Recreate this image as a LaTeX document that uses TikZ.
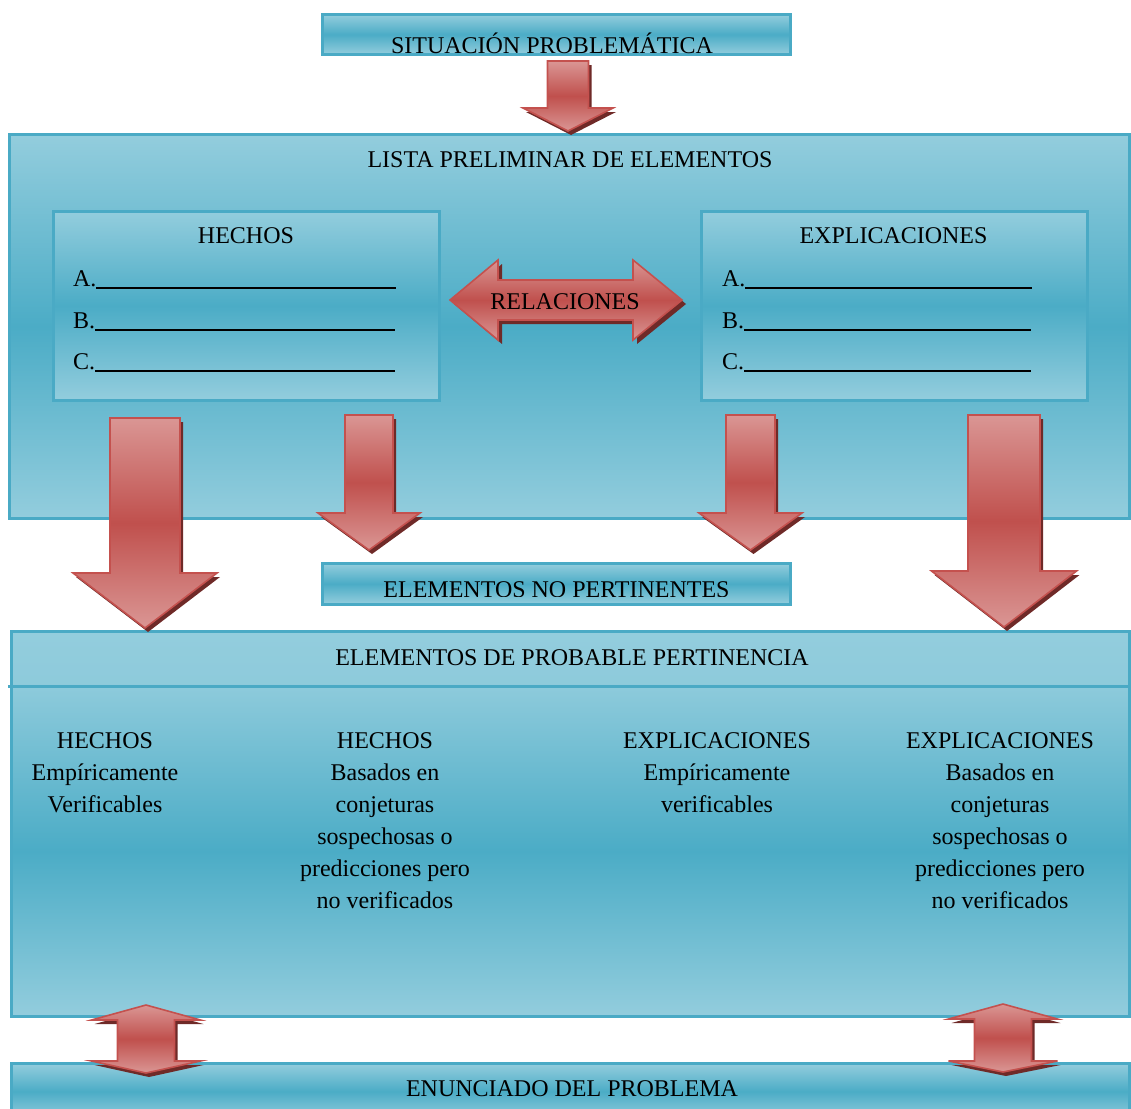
\documentclass[tikz,border=0pt]{standalone}
\usepackage{fontspec}
\setmainfont{Liberation Serif}
\definecolor{aquaL}{HTML}{93CDDD}
\definecolor{aquaD}{HTML}{4BACC6}
\definecolor{aquaB}{HTML}{4AAAC5}
\definecolor{redL}{HTML}{DA9694}
\definecolor{redM}{HTML}{C0504D}
\definecolor{redB}{HTML}{C4514E}
\definecolor{redS}{HTML}{6F2A28}

% block arrow pointing down: cx, top y, shaft half width, head base y, head half width, tip y
\newcommand\blkdown[6]{%
  \begin{scope}[shift={(3,4)}]
    \fill[redS] ({#1-#3},#2) -- ({#1+#3},#2) -- ({#1+#3},#4) -- ({#1+#5},#4) -- (#1,#6) -- ({#1-#5},#4) -- ({#1-#3},#4) -- cycle;
  \end{scope}
  \path[blockarrow] ({#1-#3},#2) -- ({#1+#3},#2) -- ({#1+#3},#4) -- ({#1+#5},#4) -- (#1,#6) -- ({#1-#5},#4) -- ({#1-#3},#4) -- cycle;
}
% horizontal double block arrow: left tip x, centre y, left head base x, right head base x, right tip x, shaft half, head half
\newcommand\blkhoriz[7]{%
  \begin{scope}[shift={(4,4)}]
    \fill[redS] (#1,#2) -- (#3,{#2-#7}) -- (#3,{#2-#6}) -- (#4,{#2-#6}) -- (#4,{#2-#7}) -- (#5,#2) -- (#4,{#2+#7}) -- (#4,{#2+#6}) -- (#3,{#2+#6}) -- (#3,{#2+#7}) -- cycle;
  \end{scope}
  \path[blockarrow] (#1,#2) -- (#3,{#2-#7}) -- (#3,{#2-#6}) -- (#4,{#2-#6}) -- (#4,{#2-#7}) -- (#5,#2) -- (#4,{#2+#7}) -- (#4,{#2+#6}) -- (#3,{#2+#6}) -- (#3,{#2+#7}) -- cycle;
}
% vertical double block arrow: cx, top tip y, top head base y, bottom head base y, bottom tip y, shaft half, head half
\newcommand\blkvert[7]{%
  \begin{scope}[shift={(3,4)}]
    \fill[redS] (#1,#2) -- ({#1+#7},#3) -- ({#1+#6},#3) -- ({#1+#6},#4) -- ({#1+#7},#4) -- (#1,#5) -- ({#1-#7},#4) -- ({#1-#6},#4) -- ({#1-#6},#3) -- ({#1-#7},#3) -- cycle;
  \end{scope}
  \path[blockarrow] (#1,#2) -- ({#1+#7},#3) -- ({#1+#6},#3) -- ({#1+#6},#4) -- ({#1+#7},#4) -- (#1,#5) -- ({#1-#7},#4) -- ({#1-#6},#4) -- ({#1-#6},#3) -- ({#1-#7},#3) -- cycle;
}

\begin{document}
\begin{tikzpicture}[x=1pt,y=-1pt,
  every node/.style={inner sep=0pt, outer sep=0pt},
  panel/.style={draw=aquaB, line width=3pt, top color=aquaL, bottom color=aquaL, middle color=aquaD, anchor=north west},
  blockarrow/.style={draw=redB, line width=1.6pt, top color=redL, bottom color=redL, middle color=redM},
  lbl/.style={anchor=base, font=\fontsize{24}{32}\selectfont},
  col/.style={anchor=base, align=center, font=\fontsize{24}{32}\selectfont}]
\useasboundingbox (0,0) rectangle (1131,1108);

% header box
\node[panel, minimum width=468pt, minimum height=40pt] (situacion) at (322.5,14.5) {};
\begin{scope}
  \clip (324,16) rectangle (789,54);
  \node[lbl] (tsituacion) at (552,54) {SITUACIÓN PROBLEMÁTICA};
\end{scope}

% preliminary list
\node[panel, minimum width=1120pt, minimum height=384pt] (lista) at (9.5,134.5) {};
\node[lbl] (tlista) at (570,167) {LISTA PRELIMINAR DE ELEMENTOS};

\node[panel, minimum width=386pt, minimum height=188.5pt] (hechos) at (53.5,211.5) {};
\node[lbl] (thechos) at (246,243) {HECHOS};
\node[lbl, anchor=base west] (ha) at (73,286) {A.\rule[-2.5pt]{300pt}{1.1pt}};
\node[lbl, anchor=base west] (hb) at (73,328) {B.\rule[-2.5pt]{300pt}{1.1pt}};
\node[lbl, anchor=base west] (hc) at (73,369) {C.\rule[-2.5pt]{300pt}{1.1pt}};

\node[panel, minimum width=386pt, minimum height=188.5pt] (explic) at (701.5,211.5) {};
\node[lbl] (texplic) at (893.5,243) {EXPLICACIONES};
\node[lbl, anchor=base west] (ea) at (722,286) {A.\rule[-2.5pt]{287pt}{1.1pt}};
\node[lbl, anchor=base west] (eb) at (722,328) {B.\rule[-2.5pt]{287pt}{1.1pt}};
\node[lbl, anchor=base west] (ec) at (722,369) {C.\rule[-2.5pt]{287pt}{1.1pt}};

% not pertinent
\node[panel, minimum width=468pt, minimum height=40.5pt] (nopert) at (322.5,563.5) {};
\begin{scope}
  \clip (324,565) rectangle (789,596);
  \node[lbl] (tnopert) at (556.5,597) {ELEMENTOS NO PERTINENTES};
\end{scope}

% probable pertinence
\coordinate (pnw) at (11.5,631.5);
\coordinate (pdiv) at (11.5,686);
\coordinate (pse) at (1129.5,1016.5);
\path[top color=aquaL, bottom color=aquaL!92!aquaD] (pnw) rectangle (pse |- pdiv);
\path[top color=aquaL!92!aquaD, bottom color=aquaL, middle color=aquaD] (pdiv) rectangle (pse);
\node[draw=aquaB, line width=3pt, minimum width=1118pt, minimum height=385pt, anchor=north west] (probable) at (pnw) {};
\draw[aquaB, line width=3pt] (8,686) -- (pse |- pdiv);
\node[lbl] (tprobable) at (572,665) {ELEMENTOS DE PROBABLE PERTINENCIA};

% multi-line columns: base anchor sits on the last line
\node[col] (c1) at (105,812) {HECHOS\\Empíricamente\\Verificables};
\node[col] (c2) at (385,908) {HECHOS\\Basados en\\conjeturas\\sospechosas o\\predicciones pero\\no verificados};
\node[col] (c3) at (717,812) {EXPLICACIONES\\Empíricamente\\verificables};
\node[col] (c4) at (1000,908) {EXPLICACIONES\\Basados en\\conjeturas\\sospechosas o\\predicciones pero\\no verificados};

% statement
\node[panel, minimum width=1118pt, minimum height=56pt] (enunciado) at (11.5,1063.5) {};
\node[lbl] (tenunciado) at (572,1096) {ENUNCIADO DEL PROBLEMA};

% block arrows
\blkdown{568}{61}{20.5}{108}{45}{131}
\blkhoriz{450}{300}{498}{633}{682}{20}{40}
\node[lbl] (trel) at (565,309) {RELACIONES};
\blkdown{145}{418}{35}{573}{72}{628}
\blkdown{369}{415}{24}{513}{51}{550}
\blkdown{750.5}{415}{24.5}{513}{51.5}{550}
\blkdown{1004}{415}{36}{571}{72.5}{627}
\blkvert{146}{1005}{1020}{1061}{1073}{28.5}{54.5}
\blkvert{1003}{1004}{1019}{1061}{1072}{28.5}{54.5}
\end{tikzpicture}
\end{document}
